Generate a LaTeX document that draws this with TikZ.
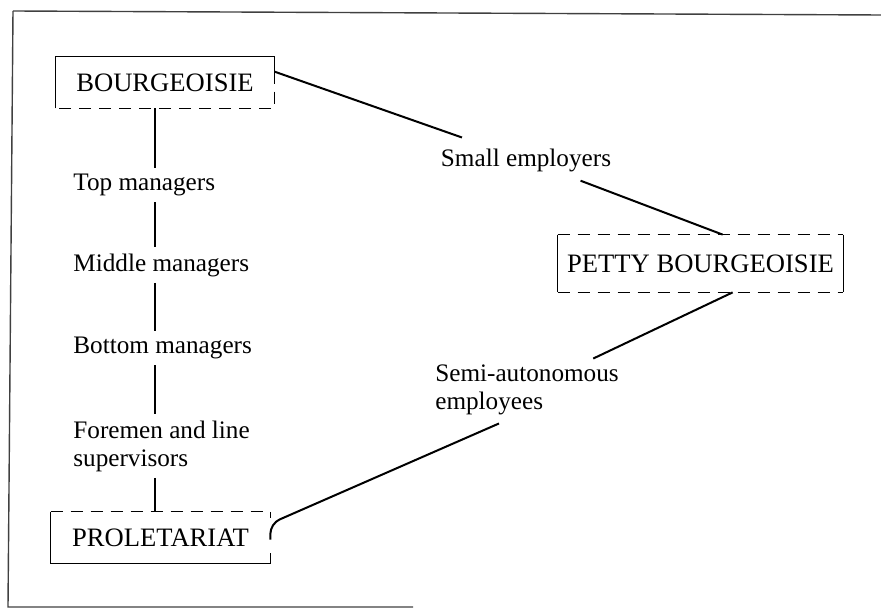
\documentclass[tikz,border=0pt]{standalone}
\usepackage{fontspec}
\setmainfont{Liberation Serif}
\usepackage{tikz}
\usetikzlibrary{positioning,calc}

\begin{document}
\begin{tikzpicture}[x=0.5pt, y=-0.5pt,
  cls/.style={font=\fontsize{13.3}{16}\selectfont, inner sep=0pt},
  role/.style={font=\fontsize{12.6}{14}\selectfont, anchor=west, align=left, inner xsep=0pt, inner ysep=3pt},
  link/.style={line width=1pt},
  side/.style={line width=0.8pt},
  gap/.style={side, dash pattern=on 6pt off 4pt}]
  \useasboundingbox (0,0) rectangle (881,609);
  % frame of the figure
  \draw[line width=0.7pt, black!75] (13,11) -- (881,15);
  \draw[line width=0.7pt, black!75] (13,11) -- (8,607) -- (413,607);
  % the three classes
  \node[cls, minimum width=109pt, minimum height=25.5pt] (bour) at (165,82.5) {BOURGEOISIE};
  \node[cls, minimum width=142.5pt, minimum height=28.5pt] (petty) at (700.5,263.5) {PETTY BOURGEOISIE};
  \node[cls, minimum width=109.5pt, minimum height=25.5pt] (prol) at (160.5,537.5) {PROLETARIAT};
  \coordinate (bc) at ([yshift=-7.5pt]bour.north east);
  \draw[side] (bour.south west) -- (bour.north west) -- (bour.north east) -- (bc);
  \draw[gap] (bc) -- (bour.south east) -- (bour.south west);
  \draw[side] (petty.north west) -- (petty.south west);
  \draw[side] (petty.north east) -- (petty.south east);
  \draw[gap] (petty.north west) -- (petty.north east);
  \draw[gap] (petty.south west) -- (petty.south east);
  \draw[side] (prol.north west) -- (prol.south west) -- (prol.south east) -- ([yshift=5pt]prol.south east);
  \draw[gap] (prol.south west |- prol.north) -- (prol.north east) -- ([yshift=-3pt]prol.north east);
  % contradictory locations
  \node[role] (top) at (73,185) {Top managers};
  \node[role] (mid) at (73,265) {Middle managers};
  \node[role] (bot) at (73,348) {Bottom managers};
  \node[role] (fore) at (73,446) {Foremen and line\\supervisors};
  \node[role, anchor=center] (small) at (526,160) {Small employers};
  \node[role, anchor=center] (semi) at (527,390) {Semi-autonomous\\employees};
  \coordinate (spine) at (155,0);
  \draw[link] (bour.south -| spine) -- (top.north -| spine);
  \draw[link] (top.south -| spine) -- (mid.north -| spine);
  \draw[link] (mid.south -| spine) -- (bot.north -| spine);
  \draw[link] (bot.south -| spine) -- (fore.north -| spine);
  \draw[link] (fore.south -| spine) -- (prol.north -| spine);
  \draw[link, shorten >=7pt] (bc) -- (small);
  \draw[link, shorten <=4pt] (small) -- ([xshift=82.5pt]petty.north west);
  \draw[link] ([xshift=87.5pt]petty.south west) -- (semi);
  \draw[link, rounded corners=5pt] ([xshift=-14pt, yshift=-1pt]semi.south) -- ([yshift=7pt]prol.east) -- ([yshift=-1pt]prol.east);
\end{tikzpicture}
\end{document}
